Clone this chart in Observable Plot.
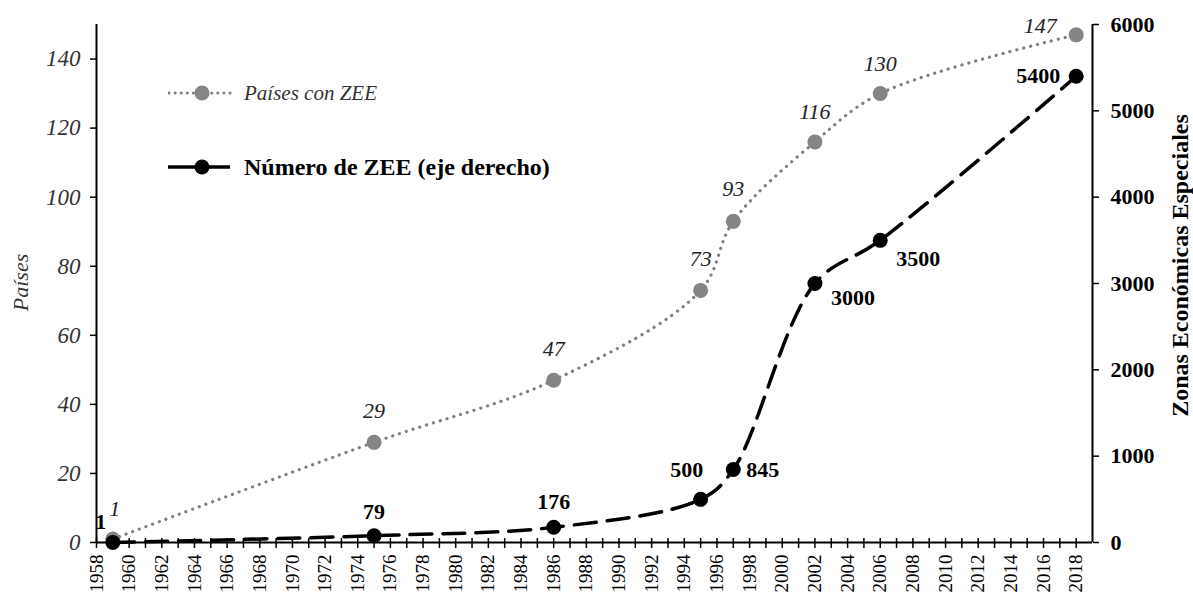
<!DOCTYPE html>
<html>
<head>
<meta charset="utf-8">
<script src="https://cdn.jsdelivr.net/npm/d3@7"></script>
<script src="https://cdn.jsdelivr.net/npm/@observablehq/plot@0.6"></script>
<style>
  body { margin: 0; background: #fff; }
  #wrap { position: relative; width: 1193px; height: 597px; overflow: hidden; font-family: "Liberation Serif", serif; }
  .leg { position: absolute; left: 0; top: 0; }
  .leg-row { position: absolute; display: flex; align-items: center; white-space: nowrap; }
  .leg-row span { margin-left: 12px; }
</style>
</head>
<body>
<div id="wrap"></div>
<script>
// ---- data ----
const years = [1959, 1975, 1986, 1995, 1997, 2002, 2006, 2018];
const paises = [1, 29, 47, 73, 93, 116, 130, 147];
const zee = [1, 79, 176, 500, 845, 3000, 3500, 5400];
const leftTicks = [0, 20, 40, 60, 80, 100, 120, 140];
const rightTicks = [0, 1000, 2000, 3000, 4000, 5000, 6000];
const yearTicks = d3.range(1958, 2019);
const seriesNames = ["Países con ZEE", "Número de ZEE (eje derecho)"];
const leftTitle = "Países";
const rightTitle = "Zonas Económicas Especiales";

// ---- layout / style ----
const xDomain = [1958, 2019];
const yDomain = [0, 150];
const ratio = 6000 / 150; // right axis / left axis
const paisesLabelOffsets = [
  {dx: 2, dy: -30, a: "middle"}, {dx: 0, dy: -31, a: "middle"}, {dx: 0, dy: -31, a: "middle"},
  {dx: 0, dy: -31, a: "middle"}, {dx: 0, dy: -32, a: "middle"}, {dx: 0, dy: -30, a: "middle"},
  {dx: 0, dy: -30, a: "middle"}, {dx: -36, dy: -9, a: "middle"}
];
const zeeLabelOffsets = [
  {dx: -12, dy: -20, a: "middle"}, {dx: 0, dy: -24, a: "middle"}, {dx: 0, dy: -25, a: "middle"},
  {dx: -14, dy: -29, a: "middle"}, {dx: 13, dy: 0, a: "start"}, {dx: 16, dy: 14, a: "start"},
  {dx: 16, dy: 19, a: "start"}, {dx: -16, dy: 0, a: "end"}
];

const rows = years.map((y, i) => ({year: y, paises: paises[i], zee: zee[i], i}));
const curve = d3.curveCatmullRom.alpha(0.5);

const paisesLabels = rows.map((r, i) => Plot.text([r], {
  x: "year", y: "paises", text: d => String(d.paises),
  dx: paisesLabelOffsets[i].dx, dy: paisesLabelOffsets[i].dy, textAnchor: paisesLabelOffsets[i].a,
  fontStyle: "italic", fontSize: 22, fill: "#222"
}));
const zeeLabels = rows.map((r, i) => Plot.text([r], {
  x: "year", y: d => d.zee / ratio, text: d => String(d.zee),
  dx: zeeLabelOffsets[i].dx, dy: zeeLabelOffsets[i].dy, textAnchor: zeeLabelOffsets[i].a,
  fontWeight: "bold", fontSize: 22, fill: "#000"
}));

const chart = Plot.plot({
  width: 1193,
  height: 597,
  marginLeft: 96,
  marginRight: 101,
  marginTop: 24,
  marginBottom: 55,
  style: {fontFamily: "Liberation Serif, serif", background: "#fff", overflow: "visible"},
  x: {domain: xDomain},
  y: {domain: yDomain},
  marks: [
    Plot.axisX({ticks: yearTicks, tickFormat: d => (d % 2 === 0 ? String(d) : ""), tickRotate: -90,
      tickSize: 6, tickPadding: 6, fontSize: 19, fill: "#000", stroke: "#000", strokeWidth: 1.5, label: null}),
    Plot.axisX({ticks: yearTicks, tickFormat: () => "", tickSize: -4, stroke: "#000", strokeWidth: 1.5, label: null}),
    Plot.axisY({anchor: "left", ticks: leftTicks, tickSize: 6, tickPadding: 10, fontSize: 23,
      fontStyle: "italic", fill: "#333", stroke: "#000", strokeWidth: 1.5, label: null}),
    Plot.axisY({anchor: "right", ticks: rightTicks.map(v => v / ratio), tickFormat: d => String(Math.round(d * ratio)),
      tickSize: 6, tickPadding: 12, fontSize: 22, fontWeight: "bold", fill: "#000", stroke: "#000", strokeWidth: 1.5, label: null}),
    Plot.ruleX([xDomain[0], xDomain[1]], {stroke: "#000", strokeWidth: 2}),
    Plot.ruleY([0], {stroke: "#000", strokeWidth: 2}),
    Plot.text([leftTitle], {frameAnchor: "left", textAnchor: "middle", text: d => d, rotate: -90, dx: -76, dy: -1,
      fontSize: 22, fontStyle: "italic", fill: "#333"}),
    Plot.text([rightTitle], {frameAnchor: "right", textAnchor: "middle", text: d => d, rotate: -90, dx: 88, dy: -18,
      fontSize: 24, fontWeight: "bold", fill: "#000"}),
    Plot.line(rows, {x: "year", y: "paises", curve, stroke: "#808080", strokeWidth: 3.2,
      strokeDasharray: "0.1 7", strokeLinecap: "round"}),
    Plot.dot(rows, {x: "year", y: "paises", r: 7.5, fill: "#858585", stroke: "none"}),
    Plot.line(rows, {x: "year", y: d => d.zee / ratio, curve, stroke: "#000", strokeWidth: 3.5,
      strokeDasharray: "22 11"}),
    Plot.dot(rows, {x: "year", y: d => d.zee / ratio, r: 7.5, fill: "#000", stroke: "none"}),
    ...paisesLabels,
    ...zeeLabels
  ]
});

const wrap = document.getElementById("wrap");
wrap.appendChild(chart);

// legend (HTML overlay)
const leg = document.createElement("div");
leg.className = "leg";
leg.innerHTML = `
  <div class="leg-row" style="left:168px; top:80px; height:26px;">
    <svg width="64" height="26"><line x1="1" y1="13" x2="63" y2="13" stroke="#808080" stroke-width="3" stroke-dasharray="0.1 6" stroke-linecap="round"/><circle cx="34" cy="13" r="7.5" fill="#858585"/></svg>
    <span style="font-style:italic; font-size:21px; color:#333;">${seriesNames[0]}</span>
  </div>
  <div class="leg-row" style="left:168px; top:154px; height:26px;">
    <svg width="64" height="26"><line x1="0" y1="13" x2="62" y2="13" stroke="#000" stroke-width="3.5"/><circle cx="34" cy="13" r="7.5" fill="#000"/></svg>
    <span style="font-weight:bold; font-size:24px; color:#000;">${seriesNames[1]}</span>
  </div>`;
wrap.appendChild(leg);
</script>
</body>
</html>
